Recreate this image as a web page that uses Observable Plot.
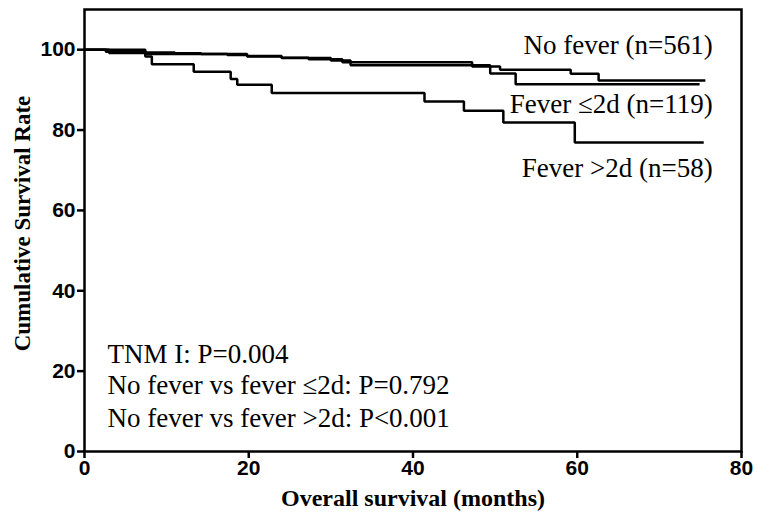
<!DOCTYPE html>
<html>
<head>
<meta charset="utf-8">
<script src="https://cdn.jsdelivr.net/npm/d3@7"></script>
<script src="https://cdn.jsdelivr.net/npm/@observablehq/plot@0.6"></script>
<style>
  html, body { margin: 0; padding: 0; background: #fff; }
</style>
</head>
<body>
<div id="chart"></div>
<script>
// ---- data ----
const groups = ["No fever (n=561)", "Fever ≤2d (n=119)", "Fever >2d (n=58)"];

const noFeverTime = [0, 2.6, 7.5, 11, 14.2, 17.4, 19.8, 24, 27.3, 31.4, 47.2, 50.6, 59.2, 62.6, 75.6];
const noFeverSurv = [100, 99.5, 99.3, 99.1, 98.9, 98.7, 98.4, 98.0, 97.6, 96.9, 95.8, 95.0, 94.0, 92.3, 92.3];

const fever2Time = [0, 3, 7.5, 19.8, 24, 30, 32.4, 49.4, 52.5, 74.9];
const fever2Surv = [100, 99.2, 98.9, 98.3, 97.9, 97.3, 96.1, 94.1, 91.4, 91.4];

const feverGt2Time = [0, 7.4, 8.2, 13.3, 17.8, 18.6, 22.8, 41.4, 46.2, 51.0, 59.7, 75.4];
const feverGt2Surv = [100, 98.3, 96.4, 94.5, 92.7, 91.3, 89.2, 87.1, 84.8, 81.9, 76.9, 76.9];

const xTicks = [0, 20, 40, 60, 80];
const yTicks = [0, 20, 40, 60, 80, 100];

const xTitle = "Overall survival (months)";
const yTitle = "Cumulative Survival Rate";

const groupLabelX = [76.5, 76.5, 76.5];
const groupLabelY = [99.0, 84.2, 68.4];

const statLines = ["TNM I: P=0.004", "No fever vs fever ≤2d: P=0.792", "No fever vs fever >2d: P<0.001"];
const statX = 2.8;
const statY = [22.1, 14.2, 6.2];

// ---- build tables ----
function toRows(group, t, s) { return t.map((v, i) => ({group, t: v, s: s[i]})); }
const curves = [
  ...toRows(groups[0], noFeverTime, noFeverSurv),
  ...toRows(groups[1], fever2Time, fever2Surv),
  ...toRows(groups[2], feverGt2Time, feverGt2Surv)
];
const groupLabels = groups.map((g, i) => ({text: g, x: groupLabelX[i], y: groupLabelY[i]}));
const stats = statLines.map((s, i) => ({text: s, x: statX, y: statY[i]}));

const serif = "'Liberation Serif', 'Times New Roman', serif";
const sans = "'Liberation Sans', Arial, sans-serif";

const chart = Plot.plot({
  width: 757,
  height: 520,
  marginLeft: 84,
  marginRight: 16,
  marginTop: 9,
  marginBottom: 69,
  style: {background: "#fff", color: "#000"},
  x: {domain: [0, 80]},
  y: {domain: [0, 110]},
  marks: [
    Plot.frame({stroke: "#000", strokeWidth: 2.5}),
    Plot.axisX({ticks: xTicks, tickSize: 7, tickPadding: 2, strokeWidth: 2.5,
      fontFamily: sans, fontSize: 21, fontWeight: "bold", label: null}),
    Plot.axisY({ticks: yTicks, tickSize: 7, tickPadding: 2, strokeWidth: 2.5,
      fontFamily: sans, fontSize: 21, fontWeight: "bold", label: null}),
    Plot.line(curves, {x: "t", y: "s", z: "group", curve: "step-after",
      stroke: "#000", strokeWidth: 2.5, strokeLinejoin: "miter", strokeLinecap: "butt"}),
    Plot.text(groupLabels, {x: "x", y: "y", text: "text", textAnchor: "end", lineAnchor: "bottom",
      fontFamily: serif, fontSize: 27, fill: "#000"}),
    Plot.text(stats, {x: "x", y: "y", text: "text", textAnchor: "start", lineAnchor: "bottom",
      fontFamily: serif, fontSize: 27, fill: "#000"}),
    Plot.text([xTitle], {frameAnchor: "bottom", dy: 54, lineAnchor: "bottom", textAnchor: "middle", text: d => d,
      fontFamily: serif, fontSize: 24, fontWeight: "bold", fill: "#000"}),
    Plot.text([yTitle], {frameAnchor: "left", dx: -62, dy: -7, rotate: -90, textAnchor: "middle", lineAnchor: "middle", text: d => d,
      fontFamily: serif, fontSize: 23, fontWeight: "bold", fill: "#000"})
  ]
});
document.getElementById("chart").appendChild(chart);
</script>
</body>
</html>
